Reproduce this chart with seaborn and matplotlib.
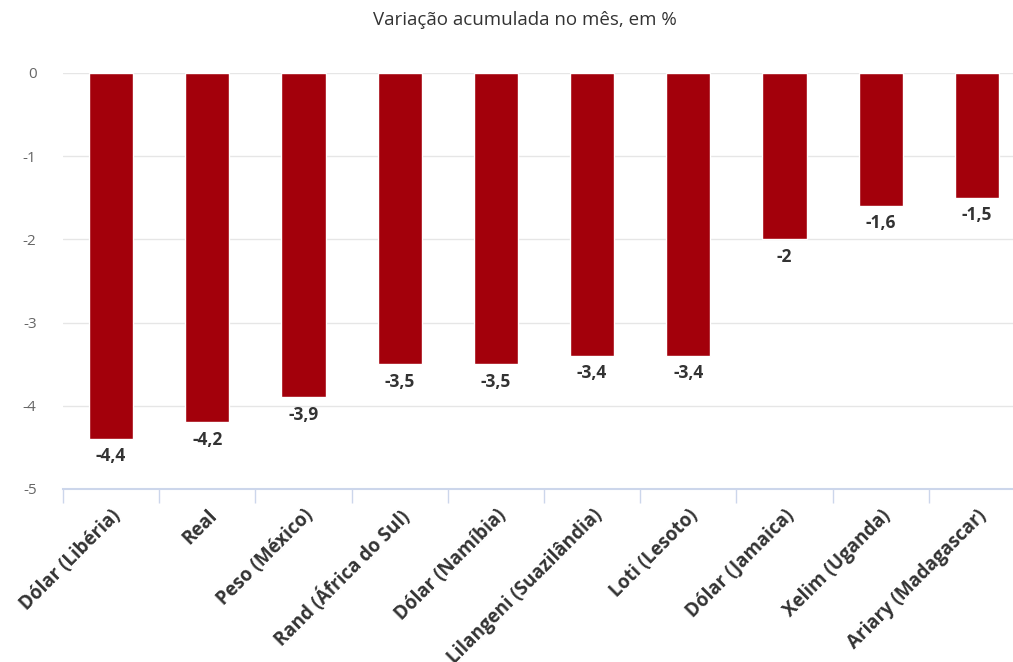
import numpy as np
import pandas as pd
import seaborn as sns
import matplotlib.pyplot as plt

sns.set_theme(style='white')
plt.rcParams['font.family'] = ['Open Sans', 'DejaVu Sans']

moedas = ['Dólar (Libéria)', 'Real', 'Peso (México)', 'Rand (África do Sul)',
          'Dólar (Namíbia)', 'Lilangeni (Suazilândia)', 'Loti (Lesoto)',
          'Dólar (Jamaica)', 'Xelim (Uganda)', 'Ariary (Madagascar)']
variacao = [-4.4, -4.2, -3.9, -3.5, -3.5, -3.4, -3.4, -2.0, -1.6, -1.5]
yticks = [0, -1, -2, -3, -4, -5]

df = pd.DataFrame({'Moeda': moedas, 'Variação': variacao})

fig = plt.figure(figsize=(10.13, 6.62), dpi=100)
ax = fig.add_axes([63 / 1013, 1 - 489 / 662, 962 / 1013, 416 / 662])

sns.barplot(data=df, x='Moeda', y='Variação', color='#A3000B',
            saturation=1, width=0.46, ax=ax)

for i, v in enumerate(variacao):
    txt = f'{v:g}'.replace('.', ',')
    ax.annotate(txt, (i, v), xytext=(0, -6), textcoords='offset points',
                ha='center', va='top', fontsize=12.5, fontweight='bold',
                color='#333333')

ax.set_xlim(-0.5, len(moedas) - 0.5)
ax.set_ylim(-5, 0)
ax.set_yticks(yticks)
ax.set_yticklabels([str(t) for t in yticks])
ax.tick_params(axis='y', length=0, pad=19, labelsize=11, labelcolor='#666666')
for t in ax.get_yticklabels():
    t.set_ha('right')

ax.set_xticks(range(len(moedas)))
ax.set_xticklabels(moedas, rotation=45, ha='right', rotation_mode='anchor',
                   fontsize=13.5, fontweight='bold', color='#333333')
ax.tick_params(axis='x', which='major', length=0, pad=12)
ax.set_xticks(np.arange(-0.5, len(moedas)), minor=True)
ax.tick_params(axis='x', which='minor', bottom=True, length=10, width=1,
               color='#ccd6eb', direction='out')

ax.set_axisbelow(True)
ax.yaxis.grid(True, color='#e6e6e6', linewidth=1)
ax.xaxis.grid(False)
for s in ['top', 'right', 'left']:
    ax.spines[s].set_visible(False)
ax.spines['bottom'].set_color('#ccd6eb')
ax.spines['bottom'].set_linewidth(1.5)
ax.set_xlabel('')
ax.set_ylabel('')

fig.text(525 / 1013, 1 - 20 / 662, 'Variação acumulada no mês, em %',
         ha='center', va='center', fontsize=13.5, color='#333333')

fig.savefig('out.png', dpi=100)
